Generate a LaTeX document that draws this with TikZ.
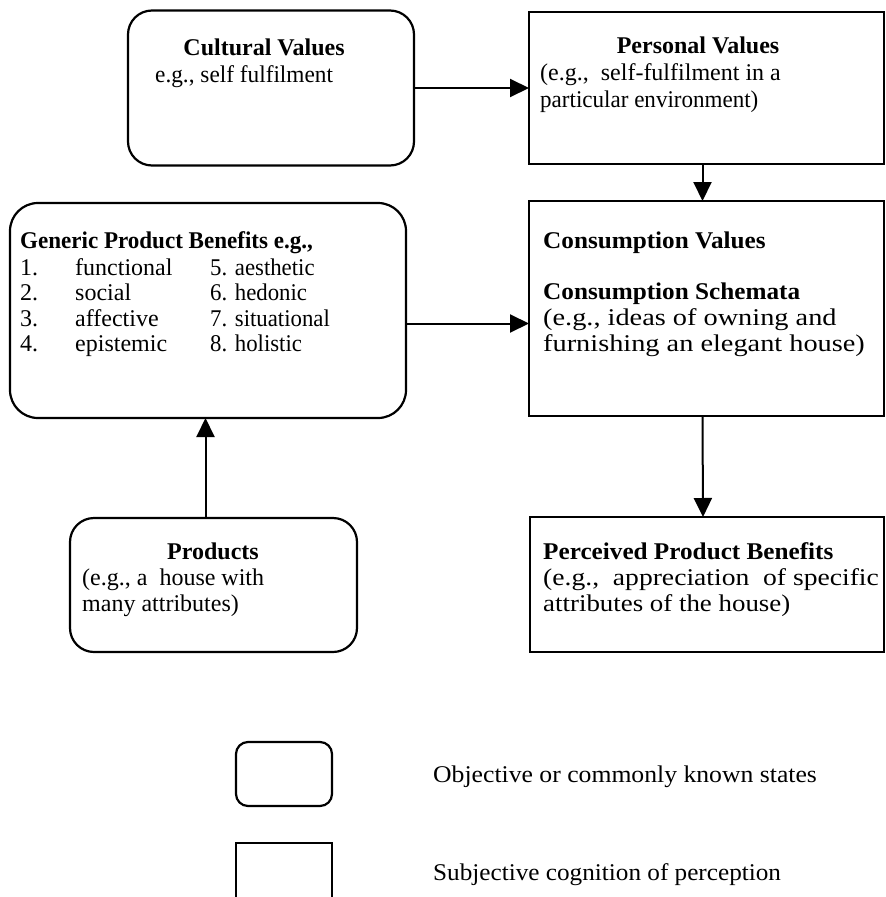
\documentclass[tikz,border=0pt]{standalone}
\usepackage{fontspec}
\usepackage{graphicx}
\setmainfont{Liberation Serif}
\usetikzlibrary{arrows.meta}
% horizontally stretched text line
\newcommand{\widen}[2]{\scalebox{#1}[1]{#2}}
\begin{document}
\begin{tikzpicture}[x=1pt,y=-1pt,
  box/.style={draw, line width=2.2pt, inner sep=0pt, outer sep=0pt},
  roundbox/.style={box, rounded corners=24pt},
  squarebox/.style={box},
  txt/.style={anchor=base west, inner sep=0pt, font=\fontsize{24}{26}\selectfont},
  btxt/.style={txt, font=\fontsize{24}{26}\selectfont\bfseries},
  ctitle/.style={btxt, anchor=base},
  arr/.style={line width=2pt, -{Triangle[length=19pt,width=18pt]}}]
\useasboundingbox (0,0) rectangle (886,897);
\clip (0,0) rectangle (886,897);

% boxes
\node[roundbox, minimum width=286pt, minimum height=155pt] (cult) at (271,88) {};
\node[squarebox, minimum width=355pt, minimum height=152pt] (pers) at (706.5,88) {};
\node[roundbox, rounded corners=28pt, minimum width=396pt, minimum height=215pt] (gen) at (208,310.5) {};
\node[squarebox, minimum width=355pt, minimum height=215pt] (cons) at (706.5,308.5) {};
\node[roundbox, minimum width=287pt, minimum height=134pt] (prod) at (213.5,585) {};
\node[squarebox, minimum width=354pt, minimum height=135pt] (perc) at (707,584.5) {};
\node[roundbox, rounded corners=12pt, minimum width=96pt, minimum height=64pt] (kobj) at (284,774) {};
\node[squarebox, minimum width=96pt, minimum height=64pt] (ksubj) at (284,875) {};

% connectors
\draw[arr] (cult.east) -- (pers.west);
\draw[arr] ([xshift=-4pt]pers.south) -- ([xshift=-4pt]cons.north);
\draw[arr] ([yshift=-13pt]gen.east) -- ([yshift=-13pt]gen.east -| cons.west);
\draw[arr] ([xshift=-4pt]cons.south) -- ([xshift=-4pt]perc.north);
\draw[arr] ([xshift=-8pt]prod.north) -- ([xshift=-8pt]prod.north |- gen.south);

% cultural values
\node[ctitle] (cultT) at (264,55) {Cultural Values};
\node[txt] (cult1) at (155,82) {\widen{0.97}{e.g., self fulfilment}};

% personal values
\node[ctitle] (persT) at (698,53) {Personal Values};
\node[txt] (pers1) at (540,80) {(e.g.,\ \ self-fulfilment in a};
\node[txt] (pers2) at (540,107) {\widen{0.96}{particular environment)}};

% generic product benefits
\node[btxt] (genT) at (20,248) {\widen{0.96}{Generic Product Benefits e.g.,}};
\node[txt] (gen1) at (20,275) {\makebox[55pt][l]{1.}\makebox[135pt][l]{functional}\widen{0.95}{5. aesthetic}};
\node[txt] (gen2) at (20,300) {\makebox[55pt][l]{2.}\makebox[135pt][l]{social}\widen{0.95}{6. hedonic}};
\node[txt] (gen3) at (20,326) {\makebox[55pt][l]{3.}\makebox[135pt][l]{affective}\widen{0.95}{7. situational}};
\node[txt] (gen4) at (20,351) {\makebox[55pt][l]{4.}\makebox[135pt][l]{epistemic}\widen{0.95}{8. holistic}};

% consumption values and schemata
\node[btxt] (consT) at (543,248) {\widen{1.05}{Consumption Values}};
\node[btxt] (consS) at (543,299) {\widen{1.05}{Consumption Schemata}};
\node[txt] (cons1) at (543,325) {\widen{1.18}{(e.g., ideas of owning and}};
\node[txt] (cons2) at (543,351) {\widen{1.18}{furnishing an elegant house)}};

% products
\node[ctitle] (prodT) at (213,559) {Products};
\node[txt] (prod1) at (82,585) {(e.g., a\ \ house with};
\node[txt] (prod2) at (82,611) {many attributes)};

% perceived product benefits
\node[btxt] (percT) at (543,559) {\widen{1.05}{Perceived Product Benefits}};
\node[txt] (perc1) at (543,585) {\widen{1.15}{(e.g.,\ \ appreciation\ \ of specific}};
\node[txt] (perc2) at (543,611) {\widen{1.12}{attributes of the house)}};

% key
\node[txt] (kobjT) at (433,782) {\widen{1.07}{Objective or commonly known states}};
\node[txt] (ksubjT) at (433,880) {\widen{1.05}{Subjective cognition of perception}};
\end{tikzpicture}
\end{document}
